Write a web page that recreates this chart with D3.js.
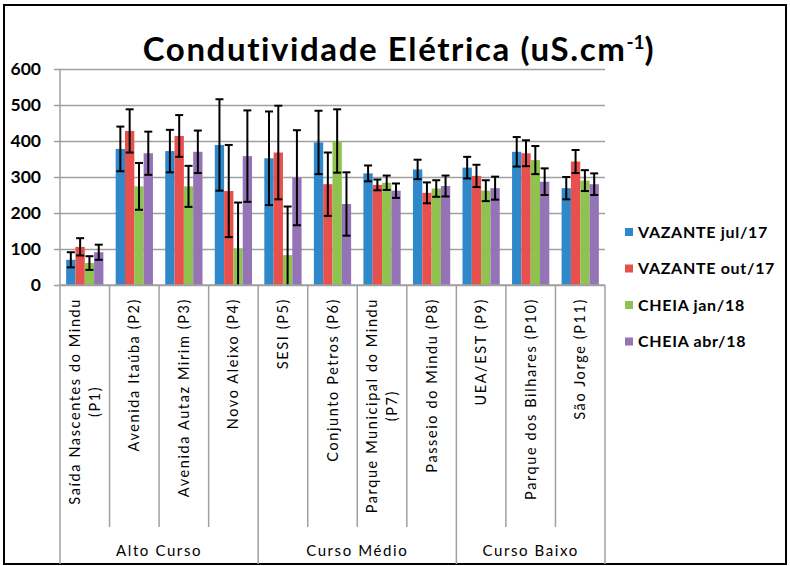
<html>
<head>
  <meta charset="utf-8">
  <script src="https://d3js.org/d3.v7.min.js"></script>
  <style>
    body { margin: 0; background: #fff; }
    text { font-family: Lato, "Open Sans", sans-serif; fill: #000; }
  </style>
</head>
<body>
  <div id="chart"></div>
  <script>
    // dados
    const categories = [
      "Saída Nascentes do Mindu\n(P1)", "Avenida Itaúba (P2)", "Avenida Autaz Mirim (P3)", "Novo Aleixo (P4)",
      "SESI (P5)", "Conjunto Petros (P6)", "Parque Municipal do Mindu\n(P7)", "Passeio do Mindu (P8)",
      "UEA/EST (P9)", "Parque dos Bilhares (P10)", "São Jorge (P11)"
    ];
    const groups = ["Alto Curso", "Curso Médio", "Curso Baixo"];
    const groupSizes = [4, 4, 3];
    const series = ["VAZANTE jul/17", "VAZANTE out/17", "CHEIA jan/18", "CHEIA abr/18"];
    const colors = ["#2e88c9", "#e8504d", "#8fc24f", "#9573b7"];

    const vazanteJul = [70, 378, 372, 389, 352, 396, 310, 321, 326, 370, 269];
    const vazanteOut = [106, 428, 414, 261, 368, 280, 278, 256, 303, 366, 343];
    const cheiaJan   = [61, 274, 274, 102, 83, 400, 284, 268, 262, 347, 290];
    const cheiaAbr   = [91, 366, 370, 358, 298, 225, 262, 275, 269, 287, 280];

    const errJul = [21, 62, 59, 127, 130, 88, 22, 27, 30, 41, 31];
    const errOut = [24, 60, 58, 128, 130, 88, 15, 29, 31, 36, 32];
    const errJan = [19, 65, 57, 127, 135, 88, 20, 23, 29, 39, 29];
    const errAbr = [21, 60, 59, 127, 132, 88, 20, 29, 32, 37, 30];

    const yTicks = [0, 100, 200, 300, 400, 500, 600];

    const values = [vazanteJul, vazanteOut, cheiaJan, cheiaAbr];
    const errors = [errJul, errOut, errJan, errAbr];

    const w = 790, h = 566;
    const plotLeft = 60, plotRight = 605, plotTop = 69, plotBottom = 285;

    const svg = d3.select("#chart").append("svg")
      .attr("width", w).attr("height", h);

    // moldura
    svg.append("rect")
      .attr("x", 4).attr("y", 5).attr("width", 782).attr("height", 559)
      .attr("fill", "none").attr("stroke", "#000").attr("stroke-width", 2);

    // titulo
    const title = svg.append("text")
      .attr("x", 399).attr("y", 61)
      .attr("text-anchor", "middle")
      .style("font-size", "33px").style("font-weight", "bold").style("letter-spacing", "1.6px");
    title.append("tspan").text("Condutividade Elétrica (uS.cm");
    title.append("tspan").attr("dy", -12).style("font-size", "19px").style("letter-spacing", "0px").text("-1");
    title.append("tspan").attr("dy", 12).text(")");

    const x = d3.scaleBand().domain(categories).range([plotLeft, plotRight]);
    const xs = d3.scaleBand().domain(series).range([0, x.bandwidth()]).paddingOuter(0.66);
    const y = d3.scaleLinear().domain([0, 600]).range([plotBottom, plotTop]);

    // grade e eixo y
    const yAxis = d3.axisLeft(y).tickValues(yTicks).tickSize(-(plotRight - plotLeft + 6)).tickPadding(13);
    const gy = svg.append("g")
      .attr("transform", "translate(" + (plotLeft - 6) + ",0)")
      .call(yAxis);
    gy.select(".domain").remove();
    gy.selectAll("line").attr("stroke", "#a0a0a0").attr("stroke-width", 1.5);
    gy.selectAll("text")
      .style("font-size", "17.5px").style("font-weight", "bold")
      .style("font-family", "Lato, sans-serif");

    svg.append("line")
      .attr("x1", plotLeft).attr("x2", plotLeft).attr("y1", plotTop).attr("y2", plotBottom)
      .attr("stroke", "#a0a0a0").attr("stroke-width", 1.5);

    // barras
    const rows = [];
    categories.forEach((c, i) => {
      series.forEach((s, j) => {
        rows.push({ cat: c, s: s, v: values[j][i], e: errors[j][i], color: colors[j] });
      });
    });

    svg.append("g").selectAll("rect")
      .data(rows).enter().append("rect")
      .attr("x", d => x(d.cat) + xs(d.s))
      .attr("y", d => y(d.v))
      .attr("width", xs.bandwidth())
      .attr("height", d => y(0) - y(d.v))
      .attr("fill", d => d.color);

    // barras de erro
    const eb = svg.append("g").attr("stroke", "#000").attr("stroke-width", 2);
    rows.forEach(d => {
      const cx = x(d.cat) + xs(d.s) + xs.bandwidth() / 2;
      const hi = y(d.v + d.e);
      const lo = y(Math.max(0, d.v - d.e));
      eb.append("line").attr("x1", cx).attr("x2", cx).attr("y1", hi).attr("y2", lo);
      eb.append("line").attr("x1", cx - 4).attr("x2", cx + 4).attr("y1", hi).attr("y2", hi);
      if (d.v - d.e > 0)
        eb.append("line").attr("x1", cx - 4).attr("x2", cx + 4).attr("y1", lo).attr("y2", lo);
    });

    // eixo x (tabela de categorias)
    const catBottom = 527, frameBottom = 564;
    const gx = svg.append("g").attr("stroke", "#a0a0a0").attr("stroke-width", 1.5);
    gx.append("line").attr("x1", plotLeft).attr("x2", plotRight).attr("y1", plotBottom).attr("y2", plotBottom);

    const groupStarts = [0];
    groupSizes.forEach((n, i) => groupStarts.push(groupStarts[i] + n));

    categories.forEach((c, i) => {
      const isGroupEdge = groupStarts.indexOf(i) >= 0;
      gx.append("line")
        .attr("x1", x(c)).attr("x2", x(c))
        .attr("y1", plotBottom).attr("y2", isGroupEdge ? frameBottom : catBottom);
    });
    gx.append("line").attr("x1", plotRight).attr("x2", plotRight).attr("y1", plotBottom).attr("y2", frameBottom);

    // rotulos das categorias
    categories.forEach(c => {
      const lines = c.split("\n");
      const g = svg.append("g")
        .attr("transform", "translate(" + (x(c) + x.bandwidth() / 2) + ",298) rotate(-90)");
      if (lines.length == 1) {
        g.append("text").attr("text-anchor", "end").attr("dy", "0.35em")
          .style("font-size", "14.5px").style("letter-spacing", "1.6px")
          .text(lines[0]);
      } else {
        const t1 = g.append("text").attr("text-anchor", "end").attr("y", -10).attr("dy", "0.35em")
          .style("font-size", "14.5px").style("letter-spacing", "1.6px")
          .text(lines[0]);
        const len = t1.node().getComputedTextLength();
        g.append("text").attr("text-anchor", "middle").attr("x", -len / 2).attr("y", 10).attr("dy", "0.35em")
          .style("font-size", "14.5px").style("letter-spacing", "1.6px")
          .text(lines[1]);
      }
    });

    // rotulos dos grupos
    groups.forEach((gname, i) => {
      const a = x(categories[groupStarts[i]]);
      const b = groupStarts[i + 1] < categories.length ? x(categories[groupStarts[i + 1]]) : plotRight;
      svg.append("text")
        .attr("x", (a + b) / 2).attr("y", 556)
        .attr("text-anchor", "middle")
        .style("font-size", "15px").style("letter-spacing", "1.6px")
        .text(gname);
    });

    // legenda
    const legend = svg.selectAll(".legend")
      .data(series).enter().append("g")
      .attr("class", "legend")
      .attr("transform", (d, i) => "translate(625," + (232 + i * 36.5) + ")");
    legend.append("rect")
      .attr("x", 0).attr("y", -4).attr("width", 8).attr("height", 8)
      .attr("fill", (d, i) => colors[i]);
    legend.append("text")
      .attr("x", 13).attr("dy", "0.35em")
      .style("font-size", "16px").style("font-weight", "bold").style("letter-spacing", "0.7px")
      .text(d => d);
  </script>
</body>
</html>
